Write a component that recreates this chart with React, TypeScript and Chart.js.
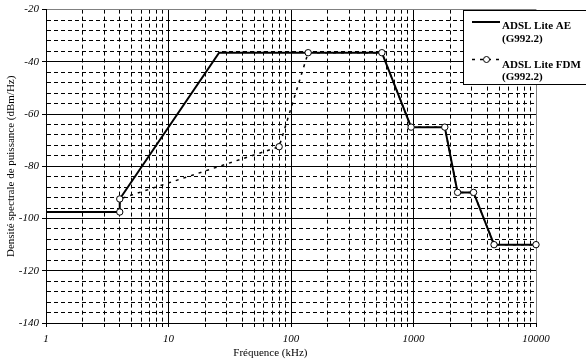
import React, { useEffect, useRef } from 'react';
import { Chart, registerables } from 'chart.js';

Chart.register(...registerables);

// ---- Data ----
const aeFreq = [1, 4, 4, 25.875, 552, 956, 1800, 2290, 3093, 4545, 10000];
const aeLevel = [-97.5, -97.5, -92.5, -36.5, -36.5, -65, -65, -90, -90, -110, -110];

const fdmFreq = [4, 4, 80, 138, 552, 956, 1800, 2290, 3093, 4545, 10000];
const fdmLevel = [-97.5, -92.5, -72.5, -36.5, -36.5, -65, -65, -90, -90, -110, -110];

const seriesNames = ['ADSL Lite AE', 'ADSL Lite FDM'];
const seriesNote = '(G992.2)';

const xMajorTicks = [1, 10, 100, 1000, 10000];
const xMinorMultipliers = [2, 3, 4, 5, 6, 7, 8, 9];
const yMajorTicks = [-140, -120, -100, -80, -60, -40, -20];
const yMinorStep = 4;

const xTitle = 'Fréquence (kHz)';
const yTitle = 'Densité spectrale de puissance (dBm/Hz)';

const SERIF = "'Liberation Serif', 'Times New Roman', Times, serif";

const overlayPlugin = {
  id: 'overlayPlugin',
  afterDraw(chart: any) {
    const { ctx, chartArea } = chart;
    ctx.save();
    // x-axis title
    ctx.font = `11px ${SERIF}`;
    ctx.fillStyle = '#000';
    ctx.textAlign = 'center';
    ctx.textBaseline = 'middle';
    ctx.fillText(xTitle, chartArea.left + (chartArea.right - chartArea.left) * 0.458, 353);

    // legend box
    const bx = 463;
    const by = Math.round(chartArea.top);
    ctx.fillStyle = '#fff';
    ctx.fillRect(bx, by, 140, 74);
    ctx.strokeStyle = '#000';
    ctx.lineWidth = 1;
    ctx.strokeRect(bx + 0.5, by + 0.5, 140, 74);

    // AE sample
    ctx.beginPath();
    ctx.lineWidth = 2;
    ctx.setLineDash([]);
    ctx.moveTo(472, by + 12);
    ctx.lineTo(500, by + 12);
    ctx.stroke();

    // FDM sample
    ctx.beginPath();
    ctx.lineWidth = 1.5;
    ctx.setLineDash([3, 5]);
    ctx.moveTo(472, by + 49.5);
    ctx.lineTo(500, by + 49.5);
    ctx.stroke();
    ctx.setLineDash([]);
    ctx.lineWidth = 1;
    ctx.beginPath();
    ctx.arc(486.5, by + 49.5, 3, 0, Math.PI * 2);
    ctx.fillStyle = '#fff';
    ctx.fill();
    ctx.stroke();

    ctx.fillStyle = '#000';
    ctx.font = `bold 11px ${SERIF}`;
    ctx.textAlign = 'left';
    ctx.textBaseline = 'middle';
    ctx.fillText(seriesNames[0], 502, by + 16.5);
    ctx.fillText(seriesNote, 502, by + 29);
    ctx.fillText(seriesNames[1], 502, by + 55);
    ctx.fillText(seriesNote, 502, by + 67);
    ctx.restore();
  },
};

export default function App() {
  const canvasRef = useRef<HTMLCanvasElement | null>(null);

  useEffect(() => {
    document.body.style.margin = '0';
    const canvas = canvasRef.current;
    if (!canvas) return;

    const xTicks: number[] = [];
    xMajorTicks.forEach((m, i) => {
      xTicks.push(m);
      if (i < xMajorTicks.length - 1) xMinorMultipliers.forEach((k) => xTicks.push(m * k));
    });
    const yTicks: number[] = [];
    for (let v = yMajorTicks[0]; v <= yMajorTicks[yMajorTicks.length - 1]; v += yMinorStep) yTicks.push(v);

    const isXMajor = (v: number) => xMajorTicks.some((m) => Math.abs(m - v) < 1e-9);
    const isYMajor = (v: number) => yMajorTicks.includes(v);

    const chart = new Chart(canvas, {
      type: 'line',
      data: {
        datasets: [
          {
            label: seriesNames[1] + ' ' + seriesNote,
            data: fdmFreq.map((f, i) => ({ x: f, y: fdmLevel[i] })),
            borderColor: '#000',
            borderWidth: 1.5,
            borderDash: [3, 5],
            pointRadius: 3.2,
            pointBackgroundColor: '#fff',
            pointBorderColor: '#000',
            pointBorderWidth: 1,
            fill: false,
            tension: 0,
            clip: false as any,
            order: 1,
          },
          {
            label: seriesNames[0] + ' ' + seriesNote,
            data: aeFreq.map((f, i) => ({ x: f, y: aeLevel[i] })),
            borderColor: '#000',
            borderWidth: 2,
            pointRadius: 0,
            fill: false,
            tension: 0,
            clip: false as any,
            order: 2,
          },
        ],
      },
      options: {
        animation: false,
        responsive: false,
        layout: { padding: { top: 4, right: 50, left: 0, bottom: 0 } },
        plugins: {
          legend: { display: false },
          tooltip: { enabled: false },
        },
        scales: {
          x: {
            type: 'logarithmic',
            min: 1,
            max: 10000,
            afterBuildTicks: (scale: any) => {
              scale.ticks = xTicks.map((v) => ({ value: v }));
            },
            afterFit: (scale: any) => {
              scale.height = 38;
            },
            ticks: {
              autoSkip: false,
              maxRotation: 0,
              padding: 6,
              color: '#000',
              font: { family: SERIF, size: 11, style: 'italic' },
              callback: (v: any) => (isXMajor(Number(v)) ? String(v) : ''),
            },
            grid: {
              drawTicks: true,
              tickLength: 4,
              lineWidth: 1,
              color: (c: any) => (c.tick && c.tick.value === 10000 ? '#808080' : '#000'),
              tickColor: '#000',
              tickBorderDash: [],
            },
            border: {
              display: true,
              color: '#000',
              width: 1,
              dash: (c: any) => (c.tick && !isXMajor(c.tick.value) ? [4, 3] : []),
            } as any,
          },
          y: {
            type: 'linear',
            min: -140,
            max: -20,
            afterBuildTicks: (scale: any) => {
              scale.ticks = yTicks.map((v) => ({ value: v }));
            },
            afterFit: (scale: any) => {
              scale.width = 46;
            },
            ticks: {
              autoSkip: false,
              padding: 3,
              color: '#000',
              font: { family: SERIF, size: 11, style: 'italic' },
              callback: (v: any) => (isYMajor(Number(v)) ? String(v) : ''),
            },
            grid: {
              drawTicks: true,
              tickLength: 4,
              lineWidth: 1,
              color: (c: any) => (c.tick && c.tick.value === -20 ? '#808080' : '#000'),
              tickColor: (c: any) => (c.tick && isYMajor(c.tick.value) ? '#000' : 'rgba(0,0,0,0)'),
              tickBorderDash: [],
            },
            border: {
              display: true,
              color: '#000',
              width: 1,
              dash: (c: any) => (c.tick && !isYMajor(c.tick.value) ? [4, 3] : []),
            } as any,
            title: {
              display: true,
              text: yTitle,
              color: '#000',
              font: { family: SERIF, size: 11 },
              padding: { top: 5, bottom: 0 },
            },
          },
        },
      },
      plugins: [overlayPlugin],
    } as any);

    return () => chart.destroy();
  }, []);

  return (
    <div style={{ width: 586, height: 361 }}>
      <canvas ref={canvasRef} width={586} height={361} style={{ display: 'block' }} />
    </div>
  );
}
